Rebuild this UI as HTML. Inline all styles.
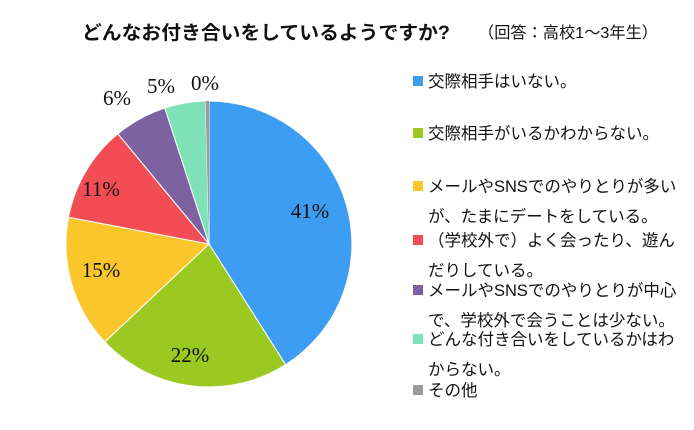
<!DOCTYPE html>
<html><head><meta charset="utf-8"><style>
body{margin:0;width:694px;height:425px;background:#fff;overflow:hidden}
</style></head><body>
<svg width="694" height="425" xmlns="http://www.w3.org/2000/svg">
<text x="82" y="39" font-family="Liberation Sans, Noto Sans CJK JP, sans-serif" font-size="19" font-weight="bold" fill="#111" textLength="368" lengthAdjust="spacingAndGlyphs">どんなお付き合いをしているようですか?</text>
<text x="478" y="38" font-family="Liberation Sans, Noto Sans CJK JP, sans-serif" font-size="16" fill="#111" textLength="180" lengthAdjust="spacingAndGlyphs">（回答：高校1～3年生）</text>
<g stroke="#fff" stroke-width="1">
<path d="M209,244 L209,101 A143,143 0 0 1 285.6,364.7 Z" fill="#3d9df2"/>
<path d="M209,244 L285.6,364.7 A143,143 0 0 1 104.8,341.9 Z" fill="#9ac921"/>
<path d="M209,244 L104.8,341.9 A143,143 0 0 1 68.5,217.2 Z" fill="#fbc52c"/>
<path d="M209,244 L68.5,217.2 A143,143 0 0 1 117.9,133.8 Z" fill="#f24d55"/>
<path d="M209,244 L117.9,133.8 A143,143 0 0 1 164.8,108 Z" fill="#7d62a2"/>
<path d="M209,244 L164.8,108 A143,143 0 0 1 205.5,101 Z" fill="#7fe2b6"/>
<path d="M209,244 L205.5,101 A143,143 0 0 1 209,101 Z" fill="#9c9c9c" stroke="none"/>
</g>
<g font-family="Liberation Serif, serif" font-size="21" fill="#111" text-anchor="middle">
<text x="310" y="218">41%</text>
<text x="190" y="362">22%</text>
<text x="101" y="277">15%</text>
<text x="101" y="196">11%</text>
<text x="117" y="105">6%</text>
<text x="161" y="93">5%</text>
<text x="205" y="90">0%</text>
</g>
<g font-family="Liberation Sans, Noto Sans CJK JP, sans-serif" font-size="16.5" fill="#111">
<rect x="413" y="76" width="10" height="10" fill="#3d9df2"/><text x="428" y="87">交際相手はいない。</text>
<rect x="413" y="128" width="10" height="10" fill="#9ac921"/><text x="428" y="139">交際相手がいるかわからない。</text>
<rect x="413" y="181" width="10" height="10" fill="#fbc52c"/><text x="428" y="192">メールやSNSでのやりとりが多い</text>
<text x="428" y="222">が、たまにデートをしている。</text>
<rect x="413" y="235" width="10" height="10" fill="#f24d55"/><text x="428" y="246">（学校外で）よく会ったり、遊ん</text>
<text x="428" y="276">だりしている。</text>
<rect x="413" y="285" width="10" height="10" fill="#7d62a2"/><text x="428" y="296">メールやSNSでのやりとりが中心</text>
<text x="428" y="326">で、学校外で会うことは少ない。</text>
<rect x="413" y="334" width="10" height="10" fill="#7fe2b6"/><text x="428" y="345">どんな付き合いをしているかはわ</text>
<text x="428" y="375">からない。</text>
<rect x="413" y="385" width="10" height="10" fill="#9c9c9c"/><text x="428" y="396">その他</text>
</g>
</svg>
</body></html>
